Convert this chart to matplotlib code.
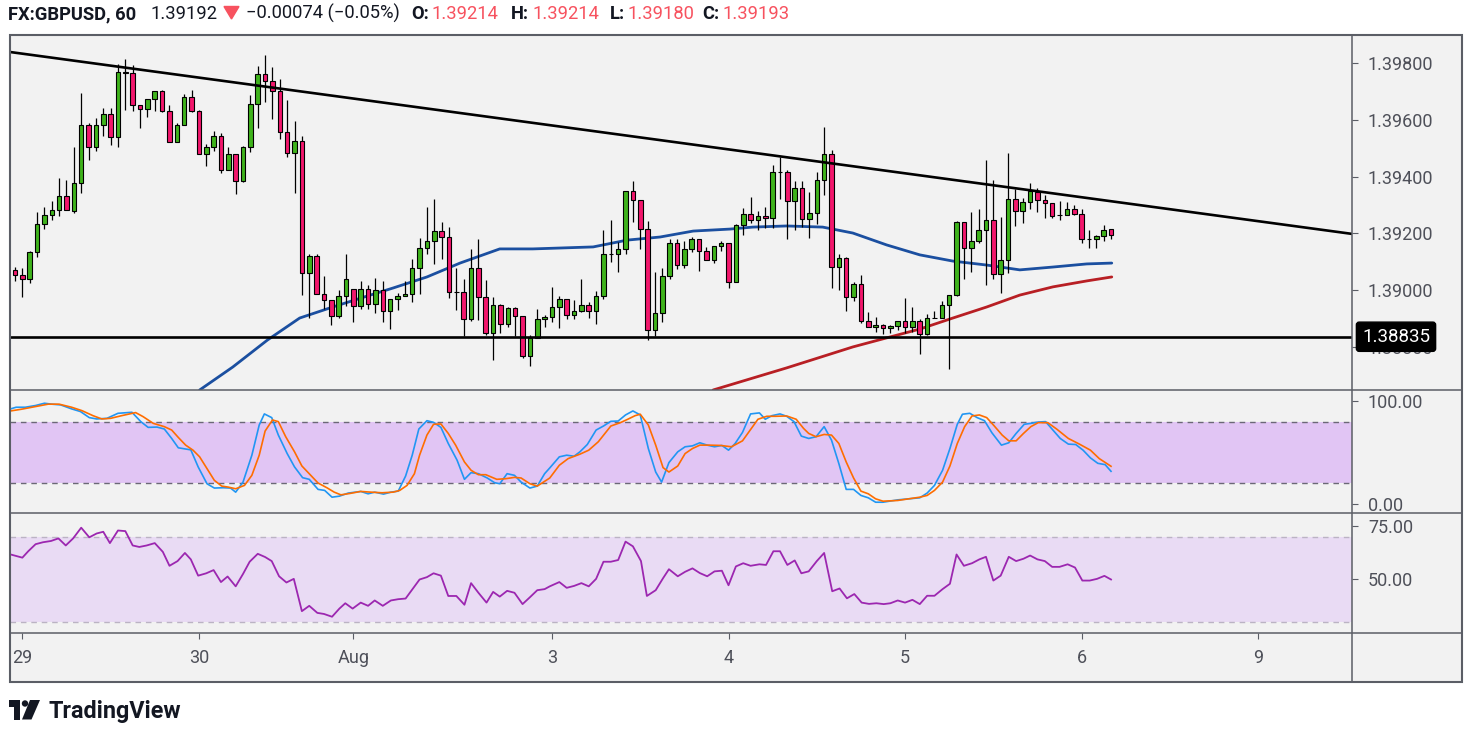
import numpy as np
import matplotlib.pyplot as plt
from matplotlib.patches import Rectangle, Polygon, Circle

plt.rcParams['font.family'] = ['Roboto', 'DejaVu Sans']

# hourly candles, GBPUSD
opens = np.array([
    1.39071, 1.39053, 1.39039, 1.39134, 1.39233, 1.39265, 1.39282, 1.39332, 1.39279, 1.39378,
    1.39582, 1.39505, 1.39582, 1.39621, 1.39540, 1.39769, 1.39766, 1.39653, 1.39639, 1.39674,
    1.39702, 1.39632, 1.39522, 1.39582, 1.39681, 1.39632, 1.39480, 1.39505, 1.39543, 1.39423,
    1.39480, 1.39385, 1.39505, 1.39656, 1.39762, 1.39738, 1.39702, 1.39558, 1.39483, 1.39526,
    1.39060, 1.39120, 1.38986, 1.38965, 1.38908, 1.38979, 1.39003, 1.38943, 1.39003, 1.38951,
    1.39000, 1.38926, 1.38968, 1.38979, 1.38986, 1.39078, 1.39148, 1.39173, 1.39208, 1.39187,
    1.38993, 1.38993, 1.38898, 1.39078, 1.38975, 1.38848, 1.38947, 1.38880, 1.38936, 1.38908,
    1.38767, 1.38831, 1.38898, 1.38905, 1.38940, 1.38968, 1.38912, 1.38926, 1.38947, 1.38926,
    1.38979, 1.39127, 1.39127, 1.39145, 1.39349, 1.39318, 1.39215, 1.38859, 1.38919, 1.39049,
    1.39166, 1.39088, 1.39145, 1.39180, 1.39138, 1.39106, 1.39155, 1.39166, 1.39028, 1.39229,
    1.39268, 1.39247, 1.39261, 1.39254, 1.39416, 1.39416, 1.39314, 1.39360, 1.39250, 1.39272,
    1.39388, 1.39480, 1.39081, 1.39113, 1.38975, 1.39021, 1.38891, 1.38869, 1.38876, 1.38866,
    1.38873, 1.38891, 1.38869, 1.38891, 1.38845, 1.38901, 1.38901, 1.38947, 1.38982, 1.39240,
    1.39148, 1.39173, 1.39212, 1.39247, 1.39056, 1.39106, 1.39321, 1.39279, 1.39311, 1.39346,
    1.39318, 1.39307, 1.39265, 1.39265, 1.39286, 1.39268, 1.39180, 1.39180, 1.39190, 1.39214])
highs = np.array([
    1.39081, 1.39078, 1.39138, 1.39275, 1.39293, 1.39314, 1.39395, 1.39388, 1.39505, 1.39695,
    1.39589, 1.39607, 1.39642, 1.39642, 1.39798, 1.39815, 1.39794, 1.39653, 1.39674, 1.39702,
    1.39706, 1.39653, 1.39589, 1.39692, 1.39706, 1.39635, 1.39515, 1.39561, 1.39554, 1.39505,
    1.39480, 1.39508, 1.39688, 1.39790, 1.39829, 1.39787, 1.39746, 1.39670, 1.39596, 1.39543,
    1.39127, 1.39127, 1.39049, 1.38965, 1.39000, 1.39127, 1.39003, 1.39032, 1.39018, 1.39042,
    1.39032, 1.38968, 1.38989, 1.39032, 1.39109, 1.39183, 1.39293, 1.39321, 1.39240, 1.39222,
    1.39078, 1.39039, 1.39145, 1.39180, 1.39035, 1.38975, 1.38951, 1.38940, 1.38940, 1.38908,
    1.38841, 1.38933, 1.38912, 1.39011, 1.38979, 1.38968, 1.38965, 1.39039, 1.38958, 1.38996,
    1.39212, 1.39247, 1.39169, 1.39349, 1.39385, 1.39318, 1.39243, 1.39063, 1.39078, 1.39180,
    1.39180, 1.39173, 1.39187, 1.39180, 1.39152, 1.39155, 1.39173, 1.39166, 1.39233, 1.39289,
    1.39328, 1.39279, 1.39293, 1.39441, 1.39469, 1.39423, 1.39385, 1.39385, 1.39346, 1.39416,
    1.39575, 1.39494, 1.39127, 1.39116, 1.39028, 1.39053, 1.38922, 1.38905, 1.38880, 1.38876,
    1.38891, 1.38972, 1.38940, 1.38898, 1.38915, 1.38926, 1.38961, 1.38982, 1.39243, 1.39240,
    1.39275, 1.39286, 1.39459, 1.39388, 1.39258, 1.39483, 1.39356, 1.39325, 1.39378, 1.39360,
    1.39335, 1.39307, 1.39314, 1.39311, 1.39300, 1.39286, 1.39212, 1.39194, 1.39229, 1.39214])
lows = np.array([
    1.39032, 1.38975, 1.39025, 1.39116, 1.39215, 1.39247, 1.39261, 1.39282, 1.39272, 1.39342,
    1.39459, 1.39490, 1.39543, 1.39512, 1.39505, 1.39635, 1.39632, 1.39572, 1.39610, 1.39632,
    1.39628, 1.39522, 1.39522, 1.39582, 1.39628, 1.39480, 1.39438, 1.39490, 1.39413, 1.39423,
    1.39339, 1.39381, 1.39487, 1.39572, 1.39663, 1.39603, 1.39533, 1.39469, 1.39342, 1.38982,
    1.38901, 1.38986, 1.38933, 1.38876, 1.38901, 1.38943, 1.38887, 1.38933, 1.38933, 1.38919,
    1.38887, 1.38862, 1.38929, 1.38979, 1.38958, 1.38986, 1.39127, 1.39092, 1.39109, 1.38972,
    1.38929, 1.38838, 1.38891, 1.38894, 1.38841, 1.38753, 1.38848, 1.38869, 1.38838, 1.38760,
    1.38732, 1.38831, 1.38869, 1.38887, 1.38866, 1.38898, 1.38898, 1.38922, 1.38901, 1.38880,
    1.38968, 1.39099, 1.39063, 1.39127, 1.39240, 1.39145, 1.38823, 1.38838, 1.38887, 1.39039,
    1.39074, 1.39078, 1.39134, 1.39067, 1.39106, 1.39095, 1.39138, 1.39007, 1.39028, 1.39194,
    1.39236, 1.39212, 1.39219, 1.39219, 1.39321, 1.39180, 1.39212, 1.39222, 1.39183, 1.39233,
    1.39335, 1.39007, 1.39000, 1.38926, 1.38961, 1.38883, 1.38869, 1.38852, 1.38845, 1.38848,
    1.38859, 1.38848, 1.38852, 1.38774, 1.38841, 1.38901, 1.38901, 1.38721, 1.38979, 1.39039,
    1.39063, 1.39166, 1.39018, 1.39039, 1.38989, 1.39060, 1.39226, 1.39236, 1.39286, 1.39275,
    1.39254, 1.39254, 1.39247, 1.39265, 1.39265, 1.39166, 1.39148, 1.39148, 1.39173, 1.39180])
closes = np.array([
    1.39053, 1.39039, 1.39134, 1.39233, 1.39265, 1.39282, 1.39332, 1.39282, 1.39378, 1.39582,
    1.39505, 1.39582, 1.39621, 1.39540, 1.39769, 1.39766, 1.39653, 1.39639, 1.39674, 1.39702,
    1.39632, 1.39522, 1.39582, 1.39681, 1.39632, 1.39480, 1.39505, 1.39543, 1.39423, 1.39480,
    1.39385, 1.39505, 1.39656, 1.39762, 1.39738, 1.39702, 1.39558, 1.39483, 1.39526, 1.39060,
    1.39120, 1.38986, 1.38965, 1.38908, 1.38979, 1.39039, 1.38943, 1.39003, 1.38951, 1.39000,
    1.38926, 1.38968, 1.38979, 1.38986, 1.39078, 1.39148, 1.39173, 1.39208, 1.39187, 1.38993,
    1.38993, 1.38898, 1.39078, 1.38975, 1.38848, 1.38947, 1.38880, 1.38936, 1.38908, 1.38767,
    1.38831, 1.38898, 1.38905, 1.38940, 1.38968, 1.38912, 1.38926, 1.38947, 1.38926, 1.38979,
    1.39127, 1.39127, 1.39145, 1.39349, 1.39318, 1.39215, 1.38859, 1.38919, 1.39049, 1.39166,
    1.39088, 1.39145, 1.39180, 1.39138, 1.39106, 1.39155, 1.39166, 1.39028, 1.39229, 1.39268,
    1.39247, 1.39261, 1.39254, 1.39416, 1.39416, 1.39314, 1.39360, 1.39250, 1.39272, 1.39388,
    1.39480, 1.39081, 1.39113, 1.38975, 1.39021, 1.38891, 1.38869, 1.38876, 1.38866, 1.38873,
    1.38891, 1.38869, 1.38891, 1.38845, 1.38901, 1.38901, 1.38947, 1.38982, 1.39240, 1.39148,
    1.39173, 1.39212, 1.39247, 1.39056, 1.39106, 1.39321, 1.39279, 1.39311, 1.39349, 1.39318,
    1.39307, 1.39261, 1.39265, 1.39286, 1.39268, 1.39180, 1.39180, 1.39190, 1.39212, 1.39193])

# moving averages (bar position, price)
ma_blue_x = [25.1, 29.6, 34.3, 38.7, 43.2, 48.3, 51.4, 56.0, 60.5, 65.9, 70.4, 78.6, 83.2, 87.7,
             92.2, 97.2, 100.3, 104.9, 109.8, 113.9, 118.5, 123.0, 127.5, 132.1, 136.6, 141.1,
             145.7, 149.1]
ma_blue_y = [1.38647, 1.38728, 1.38823, 1.38901, 1.38940, 1.38982, 1.39007, 1.39046, 1.39095,
             1.39145, 1.39145, 1.39152, 1.39176, 1.39187, 1.39208, 1.39215, 1.39222, 1.39226,
             1.39222, 1.39201, 1.39159, 1.39124, 1.39102, 1.39088, 1.39071, 1.39081, 1.39092,
             1.39095]
ma_red_x = [94.9, 95.8, 104.9, 113.9, 118.5, 123.0, 127.5, 132.1, 136.6, 141.1, 145.7, 149.1]
ma_red_y = [1.38647, 1.38654, 1.38725, 1.38799, 1.38831, 1.38862, 1.38901, 1.38940, 1.38982,
            1.39011, 1.39032, 1.39046]

trend_x = [-0.68, 181.76]
trend_y = [1.39840, 1.39198]
support = 1.38835

# stochastic %K / %D
stk_x = [-0.6, 0.15, 1.4, 2.8, 4.0, 5.0, 6.2, 7.7, 8.9, 10.1, 11.1, 12.5, 14.0, 15.9, 17.1, 18.1,
         19.3, 20.3, 21.3, 22.2, 23.9, 24.9, 26.1, 27.1, 28.3, 29.3, 30.0, 31.0, 32.2, 33.2, 33.9,
         34.9, 35.8, 37.0, 38.0, 39.1, 40.0, 41.2, 42.1, 43.1, 44.1, 45.3, 47.0, 48.0, 48.9, 50.1,
         51.1, 52.1, 53.1, 54.0, 54.9, 56.0, 56.9, 57.9, 58.9, 60.1, 61.1, 62.0, 63.0, 64.2, 65.2,
         65.9, 66.9, 67.9, 68.8, 70.0, 71.0, 72.0, 72.7, 74.0, 75.0, 76.0, 76.8, 77.8, 79.0, 80.0,
         81.0, 82.0, 83.0, 84.0, 85.0, 86.1, 87.1, 87.9, 88.9, 90.1, 91.1, 92.1, 93.1, 94.1, 95.1,
         96.1, 97.0, 97.9, 98.9, 100.0, 101.2, 102.0, 102.9, 104.0, 104.9, 105.9, 106.9, 107.9,
         108.9, 110.0, 111.0, 112.0, 113.0, 114.0, 115.0, 116.0, 117.0, 118.0, 120.0, 123.0, 124.0,
         125.0, 126.1, 127.1, 128.1, 128.8, 129.8, 130.8, 131.8, 132.8, 134.1, 135.1, 136.1, 137.2,
         138.1, 139.1, 140.1, 141.1, 142.1, 143.2, 144.2, 145.2, 146.2, 147.2, 148.2, 149.0]
stk_k = [92.5, 94.1, 94.1, 95.8, 98.0, 97.1, 96.4, 92.5, 89.9, 84.0, 82.7, 83.3, 88.2, 89.2, 80.1,
         74.5, 74.8, 72.9, 63.7, 54.6, 52.6, 36.0, 19.6, 15.4, 15.7, 15.4, 11.4, 21.2, 47.4, 76.8,
         87.6, 84.0, 67.0, 49.0, 36.0, 25.5, 23.9, 14.1, 13.1, 6.5, 7.5, 10.5, 12.1, 9.8, 11.4, 9.5,
         11.4, 12.4, 27.1, 47.4, 72.9, 81.0, 79.4, 74.5, 58.8, 42.5, 23.9, 30.4, 29.4, 25.2, 20.6,
         19.6, 29.4, 27.8, 21.2, 15.4, 17.3, 29.4, 35.0, 45.8, 47.4, 46.4, 50.7, 57.8, 71.9, 75.8,
         80.4, 80.7, 86.6, 90.5, 86.6, 53.9, 31.0, 21.2, 40.2, 50.7, 55.6, 56.5, 59.5, 57.2, 55.6,
         56.9, 52.3, 58.8, 69.6, 87.6, 88.6, 82.4, 85.9, 87.6, 85.3, 80.1, 66.0, 63.7, 65.4, 75.2,
         62.1, 39.2, 14.1, 14.1, 8.2, 5.9, 1.6, 1.6, 3.9, 5.9, 10.5, 18.0, 32.7, 53.9, 77.5, 87.3,
         88.2, 84.0, 81.0, 69.3, 57.2, 59.5, 68.6, 77.5, 78.4, 79.7, 80.1, 71.9, 63.7, 58.2, 57.8,
         52.3, 44.8, 39.5, 38.2, 31.7]
std_x = [-0.6, 0.9, 2.8, 4.5, 6.0, 7.7, 9.1, 10.6, 11.8, 13.0, 14.5, 16.4, 17.4, 18.8, 20.3, 21.3,
         22.2, 23.2, 24.2, 25.1, 26.1, 27.1, 28.1, 29.0, 30.0, 31.2, 32.2, 33.2, 34.0, 35.0, 35.8,
         36.8, 38.0, 39.0, 40.0, 41.2, 42.4, 43.4, 44.3, 45.5, 47.0, 48.4, 49.9, 51.4, 52.3, 53.3,
         54.3, 55.0, 56.0, 56.9, 57.9, 58.9, 59.9, 61.1, 62.0, 63.0, 64.0, 65.5, 66.7, 67.9, 68.8,
         70.0, 71.0, 72.0, 72.7, 74.0, 75.2, 76.8, 78.0, 79.3, 81.0, 82.3, 83.3, 84.3, 85.0, 86.1,
         87.1, 88.1, 88.9, 90.1, 91.1, 92.1, 93.1, 94.4, 95.9, 97.4, 98.9, 100.1, 101.0, 102.2,
         103.4, 104.9, 106.2, 107.2, 107.9, 108.9, 110.0, 111.0, 112.0, 113.0, 114.0, 115.0, 116.0,
         117.0, 118.0, 120.0, 123.0, 124.0, 125.0, 126.1, 127.1, 128.1, 129.1, 130.1, 131.1, 132.1,
         133.1, 134.2, 135.1, 136.1, 137.1, 138.1, 139.1, 140.4, 141.6, 143.2, 144.7, 146.2, 147.4,
         149.0]
std_d = [90.5, 92.2, 94.8, 97.1, 97.1, 94.1, 90.8, 85.9, 82.7, 83.3, 85.9, 88.9, 85.0, 78.4, 75.2,
         71.9, 64.7, 57.2, 52.3, 45.8, 34.3, 22.9, 17.3, 16.3, 14.7, 18.0, 27.8, 47.4, 70.9, 81.7,
         80.1, 65.4, 50.7, 36.9, 29.4, 20.3, 15.7, 11.4, 8.8, 10.1, 12.1, 11.4, 10.8, 11.4, 13.1,
         18.0, 29.4, 47.4, 67.0, 77.5, 77.8, 68.6, 57.2, 40.8, 32.7, 28.4, 28.4, 23.9, 24.5, 25.8,
         25.2, 19.6, 17.3, 21.9, 25.2, 37.6, 44.1, 48.4, 52.3, 60.5, 75.8, 79.1, 82.4, 85.9, 87.3,
         76.8, 57.2, 35.3, 31.0, 36.9, 49.0, 53.9, 57.2, 57.2, 56.9, 55.6, 61.4, 73.5, 82.4, 85.3,
         85.3, 85.6, 82.4, 73.5, 68.6, 65.4, 67.6, 67.0, 58.8, 40.8, 25.2, 12.4, 9.8, 4.9, 2.6, 3.3,
         6.5, 8.2, 13.1, 21.2, 36.9, 58.8, 75.2, 85.6, 86.6, 84.0, 76.1, 67.0, 61.4, 61.4, 68.6,
         75.2, 79.1, 79.1, 72.9, 63.7, 58.2, 52.3, 44.1, 36.6]

# RSI
rsi_x = [-0.6, 1.0, 1.8, 2.8, 3.8, 4.9, 5.9, 6.9, 7.9, 9.0, 10.1, 11.1, 12.0, 12.9, 14.0, 15.0,
         16.0, 16.9, 17.9, 19.0, 20.1, 21.0, 22.1, 23.1, 23.9, 24.9, 26.0, 27.0, 28.0, 28.9, 30.0,
         31.0, 31.9, 33.0, 34.0, 34.9, 35.9, 36.9, 37.9, 39.0, 40.0, 41.1, 42.0, 43.1, 44.1, 44.9,
         45.9, 47.0, 48.0, 48.9, 50.0, 51.1, 52.1, 53.1, 55.0, 56.0, 56.9, 57.9, 58.9, 60.0, 61.1,
         62.0, 63.0, 64.1, 65.0, 65.9, 66.9, 67.9, 69.0, 70.0, 71.0, 72.0, 72.7, 74.0, 75.0, 76.0,
         77.0, 78.0, 79.0, 80.0, 81.0, 82.0, 83.0, 84.0, 85.1, 85.9, 87.1, 88.1, 88.9, 90.1, 91.1,
         92.1, 93.1, 94.1, 95.1, 96.1, 97.0, 98.0, 99.0, 100.0, 101.2, 102.1, 103.1, 104.0, 105.0,
         106.0, 106.9, 107.9, 109.0, 110.0, 111.1, 112.1, 113.1, 114.1, 115.1, 116.1, 117.1, 118.1,
         119.0, 120.0, 121.0, 122.0, 123.0, 124.0, 125.0, 126.1, 127.1, 128.0, 129.0, 130.1, 131.1,
         132.0, 133.0, 134.0, 135.1, 136.1, 137.1, 138.0, 139.0, 140.0, 141.0, 142.0, 143.1, 144.1,
         145.1, 146.1, 147.1, 148.1, 149.0]
rsi_v = [61.7, 60.2, 63.2, 66.5, 67.4, 68.0, 69.2, 65.9, 69.2, 74.2, 69.7, 71.5, 72.3, 67.0, 72.9,
         72.6, 65.9, 65.2, 65.9, 67.0, 62.9, 56.4, 58.6, 62.4, 59.4, 51.8, 52.9, 54.4, 48.8, 51.4,
         46.8, 52.6, 58.3, 62.0, 60.5, 58.6, 51.5, 48.6, 50.3, 35.2, 37.7, 34.4, 33.9, 32.6, 36.4,
         38.9, 36.4, 39.2, 37.7, 40.2, 37.7, 40.2, 40.8, 41.1, 50.0, 51.1, 52.9, 51.8, 42.3, 42.3,
         38.2, 48.3, 43.8, 39.2, 44.2, 42.0, 44.7, 43.8, 38.5, 41.7, 45.0, 45.5, 46.8, 48.8, 46.1,
         47.0, 48.3, 46.8, 50.3, 58.3, 58.3, 59.1, 67.7, 65.5, 58.6, 42.3, 45.0, 50.6, 54.8, 51.5,
         53.6, 55.2, 53.0, 51.5, 53.8, 54.1, 47.3, 56.1, 57.6, 56.4, 57.1, 56.8, 63.2, 63.2, 56.8,
         58.9, 52.9, 53.8, 58.6, 62.4, 44.5, 45.8, 41.2, 43.2, 39.2, 38.6, 38.9, 38.5, 38.9, 40.2,
         39.2, 40.5, 38.5, 42.4, 42.4, 45.5, 48.0, 61.7, 56.4, 57.6, 59.4, 60.6, 49.5, 51.8, 60.6,
         58.6, 59.7, 61.2, 59.4, 58.6, 55.9, 55.9, 57.1, 55.6, 49.5, 49.5, 50.3, 51.7, 50.0]

day_pos = [1, 25, 46, 73, 97, 121, 145, 169]
day_labels = ['29', '30', 'Aug', '3', '4', '5', '6', '9']
price_ticks = [1.388, 1.390, 1.392, 1.394, 1.396, 1.398]

GREEN = '#3fb31c'
RED = '#f2176c'
BG = '#f2f2f2'
FRAME = '#5b5e66'
TXT = '#4e5059'
FS = 13

W, H = 1471, 737
fig = plt.figure(figsize=(W / 100, H / 100), dpi=100)
fig.patch.set_facecolor('white')


def box(x0, y0, x1, y1):
    return [x0 / W, 1 - y1 / H, (x1 - x0) / W, (y1 - y0) / H]


fig.add_artist(Rectangle((10 / W, 1 - 682 / H), 1452 / W, 647 / H, transform=fig.transFigure,
                         fc=BG, ec='none', zorder=-5))

ax_p = fig.add_axes(box(10, 35, 1352, 390))
ax_s = fig.add_axes(box(10, 390, 1352, 513), sharex=ax_p)
ax_r = fig.add_axes(box(10, 513, 1352, 633), sharex=ax_p)

for ax in (ax_p, ax_s, ax_r):
    ax.set_facecolor(BG)
    for sp in ax.spines.values():
        sp.set_visible(False)
    ax.yaxis.tick_right()
    ax.tick_params(axis='y', direction='out', length=4.5, width=0.8, color=FRAME,
                   labelsize=FS, labelcolor=TXT, pad=7)
    ax.tick_params(axis='x', bottom=False, labelbottom=False)

# price panel
idx = np.arange(len(opens))
up = closes >= opens
ax_p.vlines(idx, lows, highs, color='black', lw=0.9, zorder=3)
ax_p.bar(idx, np.abs(closes - opens), bottom=np.minimum(opens, closes), width=0.62,
         color=np.where(up, GREEN, RED), edgecolor='black', linewidth=0.8, zorder=4)
ax_p.plot(ma_blue_x, ma_blue_y, color='#1b4fa0', lw=2.0, zorder=2, solid_capstyle='round',
          solid_joinstyle='round')
ax_p.plot(ma_red_x, ma_red_y, color='#b81f24', lw=2.0, zorder=2, solid_capstyle='round',
          solid_joinstyle='round')
ax_p.plot(trend_x, trend_y, color='black', lw=1.9, zorder=5)
ax_p.axhline(support, color='black', lw=1.9, zorder=5)
ax_p.set_xlim(-0.68, 181.76)
ax_p.set_ylim(1.38647, 1.39900)
ax_p.set_yticks(price_ticks)
ax_p.set_yticklabels([f'{v:.5f}' for v in price_ticks])
ax_p.text(1.0 + 10 / 1342, support, f'{support:.5f}', transform=ax_p.get_yaxis_transform(),
          ha='left', va='center', color='white', fontsize=13.5, zorder=8, clip_on=False,
          bbox=dict(boxstyle='round,pad=0.3,rounding_size=0.15', fc='black', ec='black'))

# stochastic panel
ax_s.axhspan(20, 80, color='#e1c5f4', lw=0, zorder=0)
ax_s.axhline(80, color='#6b6876', lw=1, ls=(0, (4, 3.5)), zorder=1)
ax_s.axhline(20, color='#6b6876', lw=1, ls=(0, (4, 3.5)), zorder=1)
ax_s.plot(stk_x, stk_k, color='#2196f3', lw=1.2, zorder=3)
ax_s.plot(std_x, std_d, color='#ff6d00', lw=1.2, zorder=3)
ax_s.set_ylim(-8.9, 110.9)
ax_s.set_yticks([0, 100])
ax_s.set_yticklabels(['0.00', '100.00'])

# RSI panel
ax_r.axhspan(30, 70, color='#e9dbf4', lw=0, zorder=0)
ax_r.axhline(70, color='#bbb3c4', lw=1, ls=(0, (4, 3.5)), zorder=1)
ax_r.axhline(30, color='#bbb3c4', lw=1, ls=(0, (4, 3.5)), zorder=1)
ax_r.plot(rsi_x, rsi_v, color='#9c27b0', lw=1.3, zorder=3)
ax_r.set_ylim(25.0, 81.07)
ax_r.set_yticks([50, 75])
ax_r.set_yticklabels(['50.00', '75.00'])
ax_r.set_xticks(day_pos)
ax_r.set_xticklabels(day_labels)
ax_r.tick_params(axis='x', bottom=True, labelbottom=True, direction='out', length=4.5,
                 width=0.8, color=FRAME, labelsize=FS, labelcolor=TXT, pad=7)

# frame, header and logo in pixel space
ov = fig.add_axes([0, 0, 1, 1], zorder=20)
ov.set_xlim(0, W)
ov.set_ylim(H, 0)
ov.axis('off')
ov.patch.set_alpha(0)
ov.add_patch(Rectangle((10, 35), 1452, 647, fill=False, ec=FRAME, lw=1.5))
for yy in (390, 513, 633):
    ov.plot([10, 1462], [yy, yy], color=FRAME, lw=1.1)
ov.plot([1352, 1352], [35, 682], color=FRAME, lw=1.1)

hdr_red = '#f7525f'
dark = '#131722'
HS = 13.2
ov.text(8, 19, 'FX:GBPUSD, 60', fontsize=HS, fontweight='bold', color=dark, va='baseline')
ov.text(151, 19, '1.39192', fontsize=HS, color=dark, va='baseline')
ov.add_patch(Polygon([(224, 6.5), (239, 6.5), (231.5, 19)], closed=True, color=hdr_red))
ov.text(246, 19, '\u22120.00074 (\u22120.05%)', fontsize=HS, color=dark, va='baseline')
for xl, lab, xv, val in [(411, 'O:', 432, '1.39214'), (511, 'H:', 533, '1.39214'),
                         (610, 'L:', 628, '1.39180'), (702, 'C:', 723, '1.39193')]:
    ov.text(xl, 19, lab, fontsize=HS, fontweight='bold', color=dark, va='baseline')
    ov.text(xv, 19, val, fontsize=HS, color=hdr_red, va='baseline')

ov.add_patch(Rectangle((9.5, 700), 11, 6.5, color=dark, lw=0))
ov.add_patch(Rectangle((14.5, 700), 6, 19.5, color=dark, lw=0))
ov.add_patch(Circle((25, 703.5), 3.2, color=dark, lw=0))
ov.add_patch(Polygon([(30, 700), (40, 700), (31.5, 719.5), (22, 719.5)], closed=True,
                     color=dark, lw=0))
ov.text(49, 718, 'TradingView', fontsize=16.8, fontweight='bold', color=dark, va='baseline')

fig.savefig('out.png', dpi=100, facecolor='white')
